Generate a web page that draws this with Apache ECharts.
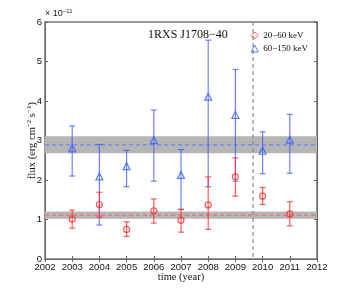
<!DOCTYPE html>
<html><head><meta charset="utf-8">
<script src="https://cdn.jsdelivr.net/npm/echarts@6/dist/echarts.min.js"></script>
<style>html,body{margin:0;padding:0;background:#fff}#c{width:349px;height:292px}</style>
</head><body><div id="c"></div>
<script>
var years = [2003, 2004, 2005, 2006, 2007, 2008, 2009, 2010, 2011];
var redVal = [1.01, 1.38, 0.75, 1.22, 0.98, 1.37, 2.08, 1.59, 1.14];
var redLo  = [0.78, 1.06, 0.57, 0.91, 0.68, 0.75, 1.59, 1.38, 0.84];
var redHi  = [1.24, 1.69, 0.94, 1.52, 1.26, 2.08, 2.56, 1.81, 1.45];
var blueVal = [2.80, 2.09, 2.35, 3.01, 2.13, 4.11, 3.65, 2.74, 3.02];
var blueLo  = [2.10, 0.86, 1.83, 1.97, 1.25, 1.83, 1.97, 2.16, 2.17];
var blueHi  = [3.37, 2.90, 2.75, 3.77, 2.77, 5.54, 4.80, 3.22, 3.66];
var redBand = [1.02, 1.20], redMean = 1.11;
var blueBand = [2.68, 3.11], blueMean = 2.89;
var vLine = 2009.65;
var xTicks = [2002, 2012, 1];
var yTicks = [0, 6, 1];

var RED = '#ff2a2a', BLUE = '#3a5cff';
var serif = '"Liberation Serif", "DejaVu Serif", serif';
var sans = '"Liberation Sans", Arial, sans-serif';

function errData(v, lo, hi) {
  return years.map(function (y, i) { return [y, v[i], lo[i], hi[i]]; });
}
function errRender(color) {
  return function (params, api) {
    var x = api.value(0);
    var lo = api.coord([x, api.value(2)]);
    var hi = api.coord([x, api.value(3)]);
    var w = 3;
    var st = { stroke: color, lineWidth: 1.2, opacity: 0.75 };
    return { type: 'group', children: [
      { type: 'line', shape: { x1: lo[0], y1: lo[1], x2: hi[0], y2: hi[1] }, style: st },
      { type: 'line', shape: { x1: lo[0] - w, y1: lo[1], x2: lo[0] + w, y2: lo[1] }, style: st },
      { type: 'line', shape: { x1: hi[0] - w, y1: hi[1], x2: hi[0] + w, y2: hi[1] }, style: st }
    ]};
  };
}
var bandColors = ['#5f7bff', '#ff5a5a'];
function bandRender(params, api) {
  var a = api.coord([xTicks[0], api.value(1)]);
  var b = api.coord([xTicks[1], api.value(0)]);
  var m = api.coord([xTicks[0], api.value(2)]);
  return { type: 'group', children: [
    { type: 'rect', shape: { x: a[0], y: a[1], width: b[0] - a[0], height: b[1] - a[1] }, style: { fill: '#b5b5b5' } },
    { type: 'line', shape: { x1: a[0], y1: m[1], x2: b[0], y2: m[1] },
      style: { stroke: bandColors[params.dataIndex], lineWidth: 1, lineDash: [4, 3] } }
  ]};
}
function vRender(params, api) {
  var t = api.coord([api.value(0), yTicks[1]]);
  var b = api.coord([api.value(0), yTicks[0]]);
  return { type: 'line', shape: { x1: t[0], y1: t[1], x2: b[0], y2: b[1] },
    style: { stroke: '#888', lineWidth: 1.2, lineDash: [4, 3] } };
}

var chart = echarts.init(document.getElementById('c'), null, { renderer: 'canvas' });
var axisLine = { lineStyle: { color: '#666', width: 1 } };
chart.setOption({
  animation: false,
  backgroundColor: '#fff',
  grid: { left: 45, right: 32, top: 22, bottom: 33, show: true, borderColor: '#777', borderWidth: 1.5 },
  title: {
    text: '1RXS J1708\u221240', left: 143, top: 24,
    textStyle: { fontFamily: serif, fontSize: 12, fontWeight: 'normal', color: '#111' }
  },
  legend: {
    right: 36, top: 26, orient: 'vertical', itemWidth: 7, itemHeight: 7, itemGap: 4,
    textStyle: { fontFamily: serif, fontSize: 9, color: '#111' },
    data: [
      { name: '20\u221260 keV', icon: 'diamond', itemStyle: { color: 'rgba(0,0,0,0)', borderColor: RED, borderWidth: 1 } },
      { name: '60\u2212150 keV', icon: 'triangle', itemStyle: { color: 'rgba(0,0,0,0)', borderColor: BLUE, borderWidth: 1 } }
    ]
  },
  graphic: [{
    type: 'text', left: 45, top: 8,
    style: {
      text: '{a|\u00d7 10}{b|\u221211}',
      rich: {
        a: { fontFamily: sans, fontSize: 9, fill: '#222' },
        b: { fontFamily: sans, fontSize: 6, fill: '#222', verticalAlign: 'top', padding: [0, 0, 6, 0] }
      }
    }
  }],
  xAxis: [{
    type: 'value', min: xTicks[0], max: xTicks[1], interval: xTicks[2],
    name: 'time (year)', nameLocation: 'middle', nameGap: 13, nameMoveOverlap: false,
    nameTextStyle: { fontFamily: serif, fontSize: 10.5, color: '#111' },
    axisLine: axisLine, axisTick: { inside: true, length: 3, lineStyle: { color: '#666' } },
    axisLabel: { fontFamily: sans, fontSize: 9.5, color: '#111', margin: 3, formatter: function (v) { return String(v); } },
    splitLine: { show: false }
  }, {
    type: 'value', position: 'top', min: xTicks[0], max: xTicks[1], interval: xTicks[2],
    axisLine: axisLine, axisTick: { inside: true, length: 3, lineStyle: { color: '#666' } },
    axisLabel: { show: false }, splitLine: { show: false }
  }],
  yAxis: [{
    type: 'value', min: yTicks[0], max: yTicks[1], interval: yTicks[2],
    name: '{t|flux (erg cm}{s|\u22122}{t| s}{s|\u22121}{t|)}',
    nameLocation: 'middle', nameRotate: 90, nameGap: 7, nameMoveOverlap: false,
    nameTextStyle: {
      fontFamily: serif, fontSize: 10.5, color: '#111',
      rich: {
        t: { fontFamily: serif, fontSize: 10.5, color: '#111' },
        s: { fontFamily: serif, fontSize: 7, color: '#111', verticalAlign: 'top', padding: [0, 0, 5, 0] }
      }
    },
    axisLine: axisLine, axisTick: { inside: true, length: 3, lineStyle: { color: '#666' } },
    axisLabel: { fontFamily: sans, fontSize: 9.5, color: '#111', margin: 3 },
    splitLine: { show: false }
  }, {
    type: 'value', position: 'right', min: yTicks[0], max: yTicks[1], interval: yTicks[2],
    axisLine: axisLine, axisTick: { inside: true, length: 3, lineStyle: { color: '#666' } },
    axisLabel: { show: false }, splitLine: { show: false }
  }],
  series: [
    {
      type: 'custom', name: 'bands', silent: true, z: 1, renderItem: bandRender,
      data: [[blueBand[0], blueBand[1], blueMean], [redBand[0], redBand[1], redMean]],
      encode: { y: [0, 1, 2] }
    },
    {
      type: 'custom', name: 'vline', silent: true, z: 2, renderItem: vRender,
      data: [[vLine]], encode: { x: 0 }
    },
    { type: 'custom', name: 'errB', renderItem: errRender(BLUE), data: errData(blueVal, blueLo, blueHi), encode: { x: 0, y: 1 }, z: 3 },
    { type: 'custom', name: 'errR', renderItem: errRender(RED), data: errData(redVal, redLo, redHi), encode: { x: 0, y: 1 }, z: 3 },
    {
      type: 'scatter', name: '60\u2212150 keV', symbol: 'triangle', symbolSize: 7,
      itemStyle: { color: 'rgba(0,0,0,0)', borderColor: BLUE, borderWidth: 1.2 },
      data: years.map(function (y, i) { return [y, blueVal[i]]; }), z: 4
    },
    {
      type: 'scatter', name: '20\u221260 keV', symbol: 'circle', symbolSize: 6,
      itemStyle: { color: 'rgba(0,0,0,0)', borderColor: RED, borderWidth: 1.2 },
      data: years.map(function (y, i) { return [y, redVal[i]]; }), z: 4
    }
  ]
});
</script></body></html>
